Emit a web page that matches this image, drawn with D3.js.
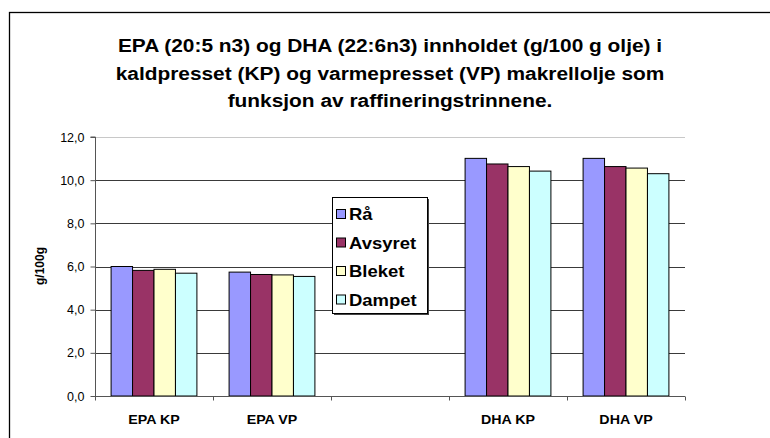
<!DOCTYPE html>
<html><head><meta charset="utf-8">
<script src="https://cdn.jsdelivr.net/npm/d3@7"></script>
<style>body{margin:0;background:#fff}svg{display:block;font-family:"Liberation Sans",Arial,sans-serif}</style>
</head><body><svg id="c" width="770" height="438"></svg>
<script>
const categories = ["EPA KP", "EPA VP", "", "DHA KP", "DHA VP"];
const seriesNames = ["Rå", "Avsyret", "Bleket", "Dampet"];
const seriesColors = ["#9999FF", "#993366", "#FFFFCC", "#CCFFFF"];
const raa     = [6.00, 5.74, null, 11.01, 11.01];
const avsyret = [5.82, 5.63, null, 10.75, 10.63];
const bleket  = [5.87, 5.61, null, 10.63, 10.56];
const dampet  = [5.69, 5.54, null, 10.42, 10.30];
const yTicks = [0, 2, 4, 6, 8, 10, 12];
const titleLines = ["EPA (20:5 n3) og DHA (22:6n3) innholdet (g/100 g olje) i",
  "kaldpresset (KP) og varmepresset (VP) makrellolje som",
  "funksjon av raffineringstrinnene."];
const yTitle = "g/100g";
const series = [raa, avsyret, bleket, dampet];

const svg = d3.select("#c");
// outer frame
svg.append("rect").attr("x", 9.5).attr("y", 12.5).attr("width", 800).attr("height", 500)
  .attr("fill", "#fff").attr("stroke", "#000").attr("stroke-width", 1.3);

const L = 95, R = 685, T = 137, B = 396;
const x = d3.scaleBand().domain(categories.map((c, i) => i)).range([L, R]).padding(0);
// Excel gap width 150%: group occupies 4 bars; gap = 1.5 bars
const barW = x.bandwidth() / (series.length + 1.5);
const y = d3.scaleLinear().domain([0, 12]).range([B, T]);

// gridlines
svg.append("g").selectAll("line").data(yTicks.filter(d => d > 0)).join("line")
  .attr("x1", L).attr("x2", R).attr("y1", d => Math.round(y(d)) + 0.5).attr("y2", d => Math.round(y(d)) + 0.5)
  .attr("stroke", d => d === 12 ? "#c8c8c8" : "#3a3a3a").attr("stroke-width", 1);

// bars
series.forEach((vals, si) => {
  svg.append("g").selectAll("rect").data(vals.map((v, ci) => ({v, ci})).filter(d => d.v != null)).join("rect")
    .attr("x", d => x(d.ci) + barW * 0.75 + si * barW)
    .attr("y", d => y(d.v))
    .attr("width", barW)
    .attr("height", d => y(0) - y(d.v))
    .attr("fill", seriesColors[si]).attr("stroke", "#000").attr("stroke-width", 1);
});

// y axis
const yAxis = d3.axisLeft(y).tickValues(yTicks).tickSize(5).tickPadding(6)
  .tickFormat(d => d3.format(".1f")(d).replace(".", ","));
const gy = svg.append("g").attr("transform", `translate(${L + 0.5},0)`).call(yAxis);
gy.select(".domain").attr("stroke", "#555").attr("d", `M-5,${T}H0V${B}`);
gy.selectAll(".tick line").attr("stroke", "#555");
gy.selectAll("text").attr("font-size", 12.5).attr("fill", "#000").attr("font-family", "Liberation Sans, Arial");

// x axis
const xAxis = d3.axisBottom(d3.scaleLinear().domain([0, categories.length]).range([L, R]))
  .tickValues(d3.range(categories.length + 1)).tickSize(4).tickFormat("");
const gx = svg.append("g").attr("transform", `translate(0,${B + 0.5})`).call(xAxis);
gx.select(".domain").attr("stroke", "#555").attr("d", `M${L},0H${R}`);
gx.selectAll(".tick line").attr("stroke", "#555");
svg.append("g").selectAll("text").data(categories.map((c, i) => ({c, i}))).join("text")
  .attr("transform", d => `translate(${x(d.i) + x.bandwidth() / 2},424) scale(1.14,1)`)
  .attr("text-anchor", "middle").attr("font-size", 12.5).attr("font-weight", "bold").text(d => d.c);

// y title
svg.append("text").attr("transform", "translate(44,266) rotate(-90)").attr("text-anchor", "middle")
  .attr("font-size", 12).attr("font-weight", "bold").text(yTitle);

// title
svg.append("g").selectAll("text").data(titleLines).join("text")
  .attr("transform", (d, i) => `translate(390,${52 + i * 27.5}) scale(1.16,1)`).attr("text-anchor", "middle")
  .attr("font-size", 18).attr("font-weight", "bold").text(d => d);

// legend
const lg = svg.append("g");
lg.append("rect").attr("x", 334).attr("y", 199).attr("width", 95).attr("height", 116).attr("fill", "#444");
lg.append("rect").attr("x", 332.5).attr("y", 197.5).attr("width", 95).attr("height", 116)
  .attr("fill", "#fff").attr("stroke", "#000").attr("stroke-width", 1);
seriesNames.forEach((n, i) => {
  const cy = 214 + i * 28.5;
  lg.append("rect").attr("x", 336.5).attr("y", cy - 4.5).attr("width", 9).attr("height", 9)
    .attr("fill", seriesColors[i]).attr("stroke", "#000");
  lg.append("text").attr("transform", `translate(349,${cy + 6}) scale(1.12,1)`)
    .attr("font-size", 16.5).attr("font-weight", "bold").text(n);
});
</script></body></html>
